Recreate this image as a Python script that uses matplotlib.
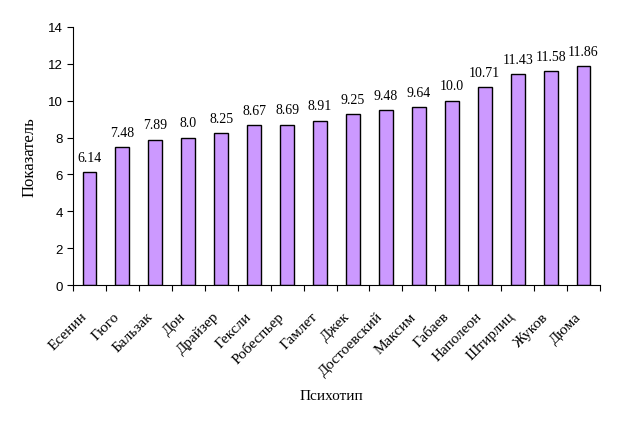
import matplotlib
matplotlib.use('Agg')
import matplotlib.pyplot as plt
import numpy as np

# Данные
names = ['Есенин', 'Гюго', 'Бальзак', 'Дон', 'Драйзер', 'Гексли', 'Робеспьер',
         'Гамлет', 'Джек', 'Достоевский', 'Максим', 'Габаев', 'Наполеон',
         'Штирлиц', 'Жуков', 'Дюма']
values = [6.14, 7.48, 7.89, 8.0, 8.25, 8.67, 8.69, 8.91, 9.25, 9.48, 9.64,
          10.0, 10.71, 11.43, 11.58, 11.86]
labels = ['6.14', '7.48', '7.89', '8.0', '8.25', '8.67', '8.69', '8.91', '9.25',
          '9.48', '9.64', '10.0', '10.71', '11.43', '11.58', '11.86']
yticks = [0, 2, 4, 6, 8, 10, 12, 14]

serif = 'Liberation Serif'
sans = 'Liberation Sans'

fig = plt.figure(figsize=(6.36, 4.27), dpi=100)
ax = fig.add_axes([73 / 636, 1 - 286.3 / 427, (600 - 73) / 636, (286.3 - 27.7) / 427])

x = np.arange(len(names))
ax.bar(x, values, width=0.42, color='#CC99FF', edgecolor='black', linewidth=1)

for xi, v, t in zip(x, values, labels):
    ax.text(xi, v + 0.45, t, ha='center', va='bottom', family=serif, fontsize=10)

ax.set_xlim(-0.5, len(names) - 0.5)
ax.set_ylim(0, 14)
ax.set_yticks(yticks)
ax.set_yticklabels([str(t) for t in yticks], family=sans, fontsize=9.5)

# риски между категориями, подписи по центру
ax.set_xticks(np.arange(len(names) + 1) - 0.5)
ax.set_xticklabels([])
ax.set_xticks(x, minor=True)
ax.set_xticklabels(names, minor=True, rotation=45, ha='right', va='bottom',
                   rotation_mode='anchor', family=serif, fontsize=11)
ax.tick_params(axis='x', which='minor', length=0, pad=24)
ax.tick_params(axis='x', which='major', length=4, direction='out')
ax.tick_params(axis='y', length=4, direction='out')

for s in ['top', 'right']:
    ax.spines[s].set_visible(False)

ax.set_ylabel('Показатель', family=serif, fontsize=12)
ax.yaxis.set_label_coords(-0.068, 0.5)
ax.set_xlabel('Психотип', family=serif, fontsize=11)
ax.xaxis.set_label_coords(0.49, -0.40)

fig.savefig('out.png', dpi=100)
